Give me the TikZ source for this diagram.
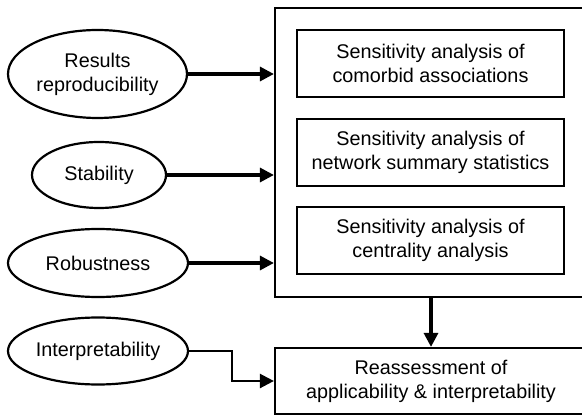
\documentclass[tikz,border=0pt]{standalone}
\usepackage{fontspec}
\setmainfont{Liberation Sans}
\usetikzlibrary{arrows.meta, positioning, shapes.geometric}

\begin{document}
\begin{tikzpicture}[x=0.5pt, y=-0.5pt, font=\fontsize{9.9}{12}\selectfont,
    oval/.style={ellipse, draw, line width=1.1pt, inner sep=0pt, align=center},
    box/.style={rectangle, draw, line width=1.3pt, align=center, minimum width=133.5pt, minimum height=33.5pt, inner sep=0pt},
    frame/.style={rectangle, draw, line width=1.1pt, minimum width=156pt, inner sep=0pt, align=center},
    arr/.style={-{Triangle[length=7pt, width=7pt]}, line width=1.6pt}]
    \useasboundingbox (0,0) rectangle (582,416);

    % outer frame and the three sensitivity analyses
    \node (outer) [frame, minimum height=144.5pt] at (431,152.5) {};
    \node (sa1) [box] at (430.5,63.5) {Sensitivity analysis of\\comorbid associations};
    \node (sa2) [box] at (430.5,152.5) {Sensitivity analysis of\\network summary statistics};
    \node (sa3) [box] at (430.5,240.5) {Sensitivity analysis of\\centrality analysis};
    \node (reassess) [frame, minimum height=33pt] at (431,381) {Reassessment of\\applicability \& interpretability};

    % criteria
    \node (results) [oval, minimum width=89.5pt, minimum height=44pt] at (97.5,74) {Results\\reproducibility};
    \node (stability) [oval, minimum width=67pt, minimum height=33pt] at (99,175) {Stability};
    \node (robust) [oval, minimum width=90pt, minimum height=34pt] at (98,263) {Robustness};
    \node (interp) [oval, minimum width=90pt, minimum height=33.5pt] at (98,351) {Interpretability};

    \draw[arr] (results.east) -- (results.east -| outer.west);
    \draw[arr] (stability.east) -- (stability.east -| outer.west);
    \draw[arr] (robust.east) -- (robust.east -| outer.west);
    \draw[arr] (outer.south) -- (reassess.north);
    \draw[arr, line width=1.2pt] (interp.east) -- ++(43,0) |- (reassess.west);
\end{tikzpicture}
\end{document}
